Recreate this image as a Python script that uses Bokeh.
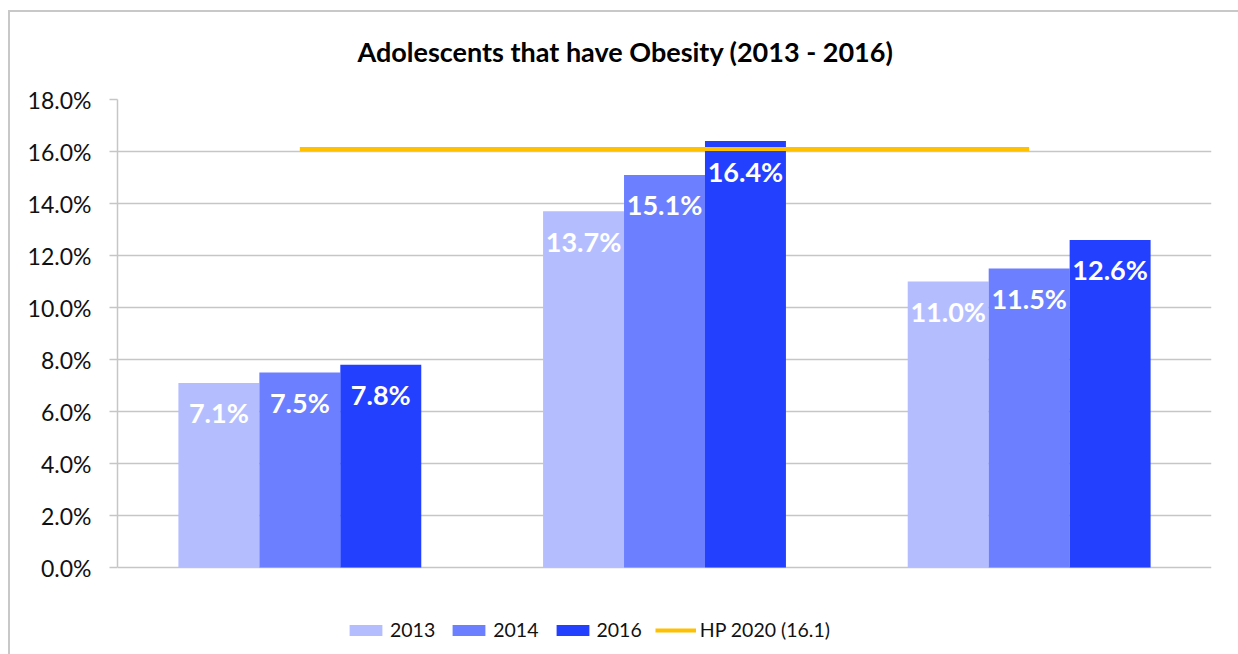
from bokeh.plotting import figure
from bokeh.models import ColumnDataSource, FactorRange, Range1d, PrintfTickFormatter, Legend, LegendItem, FixedTicker
from bokeh.transform import dodge
from bokeh.core.properties import value
from bokeh.embed import file_html
from bokeh.resources import INLINE

groups = ["Group 1", "Group 2", "Group 3"]
years = ["2013", "2014", "2016"]
v2013 = [7.1, 13.7, 11.0]
v2014 = [7.5, 15.1, 11.5]
v2016 = [7.8, 16.4, 12.6]
hp_target = 16.1
hp_label = "HP 2020 (16.1)"
colors = ["#B4BEFF", "#6C80FF", "#2340FF"]
y_ticks = [0, 2, 4, 6, 8, 10, 12, 14, 16, 18]
y_min, y_max = 0, 18

FONT = "Lato"

src = ColumnDataSource(dict(
    g=groups, v2013=v2013, v2014=v2014, v2016=v2016,
    l2013=[f"{v:.1f}%" for v in v2013],
    l2014=[f"{v:.1f}%" for v in v2014],
    l2016=[f"{v:.1f}%" for v in v2016],
))

# frame extends below zero to make room for the legend inside it
p = figure(width=1238, height=654, x_range=FactorRange(*groups, range_padding=0),
           y_range=Range1d(y_min - 3.346, y_max), output_backend="svg", toolbar_location=None,
           min_border_left=117, min_border_right=27, min_border_top=99, min_border_bottom=0)
p.border_fill_color = None
p.outline_line_color = None
p.styles = {
    "background": "linear-gradient(#c8c8c8,#c8c8c8) 8px 10px / 2px 100% no-repeat, "
                  "linear-gradient(#c8c8c8,#c8c8c8) 8px 10px / 100% 2px no-repeat",
}

p.title.text = "Adolescents that have Obesity (2013 - 2016)"
p.title.text_font = FONT
p.title.text_font_style = "bold"
p.title.text_font_size = "27px"
p.title.align = "left"
p.title.offset = 240
p.title.standoff = 64
p.title.text_color = "#000000"

bw = 0.222
offs = [-bw, 0.0, bw]
renderers = []
for yr, col, off in zip(years, colors, offs):
    r = p.vbar(x=dodge("g", off, range=p.x_range), top="v" + yr, width=bw, source=src,
               fill_color=col, line_color=None)
    renderers.append(r)
    p.text(x=dodge("g", off, range=p.x_range), y="v" + yr, text="l" + yr, source=src,
           text_color="white", text_font=value(FONT), text_font_style="bold",
           text_font_size="27px", text_align="center", text_baseline="middle", y_offset=30)

hp = p.line(x=[groups[0], groups[-1]], y=[hp_target, hp_target], line_color="#FFC000", line_width=4)

p.xaxis.visible = False
p.xgrid.visible = False
p.yaxis.ticker = FixedTicker(ticks=y_ticks)
p.yaxis.bounds = (y_min, y_max)
p.yaxis.formatter = PrintfTickFormatter(format="%.1f%%")
p.yaxis.axis_line_color = "#c6c6c6"
p.yaxis.axis_line_width = 1.5
p.yaxis.major_tick_line_color = "#c6c6c6"
p.yaxis.major_tick_line_width = 1.5
p.yaxis.major_tick_out = 8
p.yaxis.major_tick_in = 0
p.yaxis.minor_tick_line_color = None
p.yaxis.major_label_standoff = 18
p.yaxis.major_label_text_font = FONT
p.yaxis.major_label_text_font_size = "23px"
p.yaxis.major_label_text_color = "#111111"
p.ygrid.grid_line_color = "#c6c6c6"
p.ygrid.grid_line_width = 1.5
p.ygrid.bounds = (y_min, y_max)

legend = Legend(items=[LegendItem(label=y, renderers=[r]) for y, r in zip(years, renderers)] +
                [LegendItem(label=hp_label, renderers=[hp])],
                orientation="horizontal", location=(228, 13))
legend.glyph_width = 41
legend.glyph_height = 14
legend.label_standoff = 4
legend.spacing = 13
legend.padding = 0
legend.margin = 0
legend.border_line_color = None
legend.background_fill_color = None
legend.label_text_font = FONT
legend.label_text_font_size = "19.5px"
legend.label_text_color = "#111111"
legend.label_height = 20
p.add_layout(legend)

open("out.html", "w").write(file_html(p, INLINE))
